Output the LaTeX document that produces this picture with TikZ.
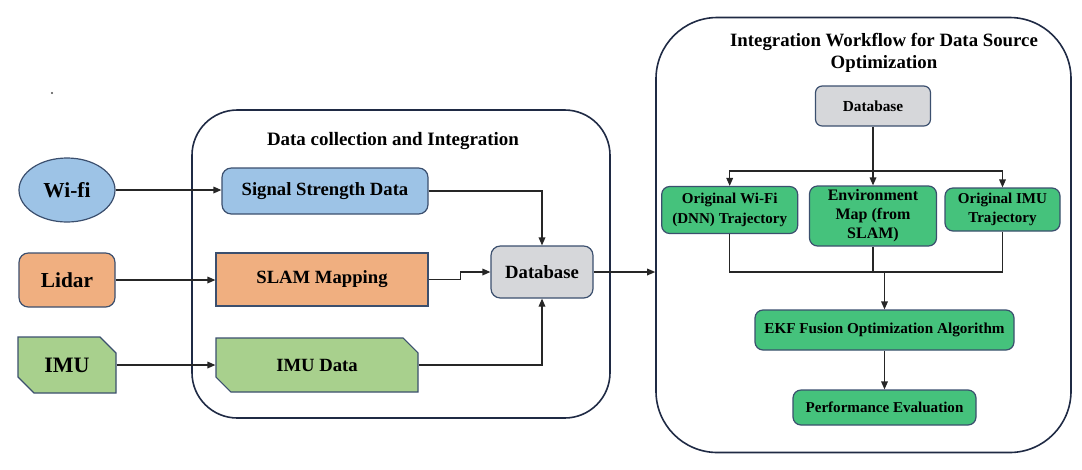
\documentclass[tikz,border=0pt]{standalone}
\usepackage{fontspec}
\setmainfont{Liberation Serif}
\usetikzlibrary{shapes.geometric,shapes.misc,arrows.meta}
\definecolor{cblue}{HTML}{9DC3E6}
\definecolor{corange}{HTML}{F0AF80}
\definecolor{clgreen}{HTML}{A8D08D}
\definecolor{cgray}{HTML}{D6D7DA}
\definecolor{cgreen}{HTML}{45C27C}
\definecolor{cborder}{HTML}{3B4F6E}
\definecolor{ccont}{HTML}{1F2A44}
\tikzset{
  every node/.style={font=\bfseries, text=black},
  sz/.style 2 args={minimum width=#1*0.75pt, minimum height=#2*0.75pt, inner sep=0pt},
  basebox/.style={draw=cborder, line width=0.9pt},
  rbox/.style={basebox, rectangle, rounded corners=7pt},
  sbox/.style={basebox, rectangle},
  cbox/.style={basebox, chamfered rectangle, chamfered rectangle corners={north east,south west}, chamfered rectangle xsep=6.5pt, chamfered rectangle ysep=6.5pt},
  ebox/.style={basebox, ellipse},
  cont/.style={draw=ccont, line width=1.2pt, rectangle, inner sep=0pt},
  conn/.style={line width=0.9pt, draw=black!85},
  arr/.style={conn, -{Triangle[length=6pt,width=5pt]}},
}
\begin{document}
\begin{tikzpicture}[x=0.75pt,y=-0.75pt]
\useasboundingbox (0,0) rectangle (1082,469);
% stray dot
\fill[black!70] (52,93) circle (1.1);
% containers
\node[cont, rounded corners=34pt, sz={418}{308}] (lc) at (401,264) {};
\node[cont, rounded corners=46pt, sz={415}{435}] (rc) at (863.5,235) {};
\node[font=\fontsize{14.2}{17}\selectfont\bfseries] (lt) at (393,141) {Data collection and Integration};
\node[font=\fontsize{14.1}{16.5}\selectfont\bfseries, align=center] (rt) at (884,53) {Integration Workflow for Data Source\\Optimization};
% sources
\node[ebox, fill=cblue, sz={96}{64}, font=\fontsize{16}{20}\selectfont\bfseries] (wifi) at (67,190) {Wi-fi};
\node[rbox, fill=corange, sz={96}{54}, font=\fontsize{16}{20}\selectfont\bfseries] (lidar) at (67,280) {Lidar};
\node[cbox, fill=clgreen, sz={98}{56}, font=\fontsize{16.5}{20}\selectfont\bfseries] (imu) at (67,365) {IMU};
% processing
\node[rbox, fill=cblue, sz={206}{46}, font=\fontsize{14}{17}\selectfont\bfseries] (sig) at (325,191) {Signal Strength Data};
\node[sbox, fill=corange, sz={212}{53}, font=\fontsize{14}{18}\selectfont\bfseries] (slam) at (322,279.5) {SLAM Mapping};
\node[cbox, fill=clgreen, sz={202}{54}, font=\fontsize{14}{18}\selectfont\bfseries] (imud) at (317,365) {IMU Data};
\node[rbox, fill=cgray, sz={102}{52}, font=\fontsize{14}{18}\selectfont\bfseries] (db1) at (542,272) {Database};
% right workflow
\node[rbox, rounded corners=5pt, fill=cgray, sz={115}{40}, font=\fontsize{11.5}{14}\selectfont\bfseries] (db2) at (873,106) {Database};
\node[rbox, rounded corners=6pt, fill=cgreen, sz={136}{47}, align=center, font=\fontsize{11.3}{14.5}\selectfont\bfseries] (w2) at (729.7,210) {Original Wi-Fi\\(DNN) Trajectory};
\node[rbox, rounded corners=6pt, fill=cgreen, sz={127}{60}, align=center, font=\fontsize{12}{14.3}\selectfont\bfseries] (env) at (873,216) {Environment\\Map (from\\SLAM)};
\node[rbox, rounded corners=6pt, fill=cgreen, sz={115}{43}, align=center, font=\fontsize{11.3}{14.5}\selectfont\bfseries] (imut) at (1002.5,209.5) {Original IMU\\Trajectory};
\node[rbox, rounded corners=6pt, fill=cgreen, sz={259}{40}, font=\fontsize{11.4}{15}\selectfont\bfseries] (ekf) at (884.5,330) {EKF Fusion Optimization Algorithm};
\node[rbox, rounded corners=6pt, fill=cgreen, sz={183}{35}, font=\fontsize{11.3}{15}\selectfont\bfseries] (pe) at (884.5,407.5) {Performance Evaluation};
% left connectors
\draw[arr] (wifi.east) -- (wifi.east -| sig.west);
\draw[arr] (lidar.east) -- (lidar.east -| slam.west);
\draw[arr] (imu.east) -- (imu.east -| imud.west);
\draw[arr] (sig.east) -| (db1.north);
\draw[arr] (slam.east) -- ++(32,0) |- (db1.west);
\draw[arr] (imud.east) -| (db1.south);
\draw[arr] (db1.east) -- (db1.east -| rc.west);
% right connectors
\coordinate (s1) at (873,171);
\coordinate (j) at (884.5,272);
\draw[conn] (db2.south) -- (s1);
\draw[arr] (s1) -- (env.north);
\draw[arr] (s1) -| (w2.north);
\draw[arr] (s1) -| (imut.north);
\draw[conn] (w2.south) |- (j);
\draw[conn] (imut.south) |- (j);
\draw[conn] (env.south) -- (env.south |- j);
\draw[arr] (j) -- (ekf.north);
\draw[arr] (ekf.south) -- (pe.north);
\end{tikzpicture}
\end{document}
